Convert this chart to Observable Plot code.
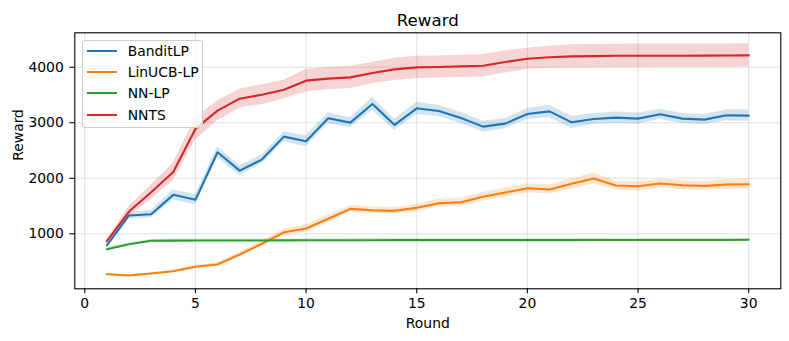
<!DOCTYPE html>
<html>
<head>
<meta charset="utf-8">
<script src="https://cdn.jsdelivr.net/npm/d3@7"></script>
<script src="https://cdn.jsdelivr.net/npm/@observablehq/plot@0.6"></script>
<style>
  body { margin: 0; background: white; }
  #wrap { position: relative; width: 789px; height: 341px; font-family: "DejaVu Sans", sans-serif; }
  #legend { position: absolute; left: 81.7px; top: 39.7px; width: 119px; height: 86px;
    border: 1px solid #cccccc; border-radius: 3px; background: rgba(255,255,255,0.8); box-sizing: content-box; }
  .entry { position: absolute; left: 0; height: 20px; font-size: 13.9px; color: #000; }
  .entry .sw { position: absolute; left: 4.3px; top: 9px; width: 30px; height: 2.1px; }
  .entry .lb { position: absolute; left: 45px; top: 1px; white-space: nowrap; line-height: 18px; }
</style>
</head>
<body>
<div id="wrap"><div id="legend"></div></div>
<script>
const rounds = [1,2,3,4,5,6,7,8,9,10,11,12,13,14,15,16,17,18,19,20,21,22,23,24,25,26,27,28,29,30];
const seriesNames = ["BanditLP", "LinUCB-LP", "NN-LP", "NNTS"];
const seriesColors = ["#1f77b4", "#ff7f0e", "#2ca02c", "#d62728"];

const banditLP    = [790,1330,1353,1702,1612,2468,2139,2337,2750,2666,3080,3002,3339,2961,3260,3213,3087,2930,2984,3159,3205,3008,3069,3093,3075,3152,3075,3057,3134,3128];
const banditLPStd = [40,60,70,90,90,100,90,80,90,100,100,90,120,100,110,100,100,100,90,100,110,110,100,100,100,90,90,90,100,100];

const linUCBLP    = [273,250,286,327,406,448,628,820,1029,1095,1270,1450,1425,1414,1468,1551,1569,1666,1743,1820,1797,1900,1995,1869,1857,1905,1875,1864,1887,1893];
const linUCBLPStd = [15,15,15,20,25,30,40,50,60,60,70,60,60,60,60,70,70,80,80,80,80,90,100,80,80,80,80,80,90,90];

const nnLP        = [723,813,874,878,880,880,881,881,882,883,884,884,885,886,886,886,887,887,886,887,887,887,889,888,888,889,889,889,890,892];
const nnLPStd     = [20,20,25,25,25,25,25,25,25,25,25,25,25,25,25,25,25,25,25,25,25,25,25,25,25,25,25,25,25,25];

const nnts        = [867,1401,1748,2115,2889,3218,3434,3506,3596,3758,3795,3817,3896,3961,3997,4004,4015,4028,4094,4154,4180,4195,4200,4206,4207,4208,4208,4209,4210,4213];
const nntsStd     = [30,90,130,160,200,180,170,180,170,200,200,200,190,200,200,200,200,200,200,190,200,210,210,210,210,210,210,210,210,210];

const xTicks = [0,5,10,15,20,25,30];
const yTicks = [1000,2000,3000,4000];

const means = [banditLP, linUCBLP, nnLP, nnts];
const stds = [banditLPStd, linUCBLPStd, nnLPStd, nntsStd];

const data = seriesNames.map((name, i) => rounds.map((r, j) => ({
  series: name, round: r, mean: means[i][j], lo: means[i][j] - stds[i][j], hi: means[i][j] + stds[i][j]
})));

const seriesMarks = data.flatMap((rows, i) => [
  Plot.lineY(rows, {x: "round", y: "mean", stroke: seriesColors[i], strokeWidth: 2.1}),
  Plot.areaY(rows, {x: "round", y1: "lo", y2: "hi", fill: seriesColors[i], fillOpacity: 0.2})
]);

const chart = Plot.plot({
  width: 789,
  height: 341,
  marginLeft: 74.3,
  marginRight: 8.7,
  marginTop: 32.3,
  marginBottom: 52.7,
  x: {domain: [-0.45, 31.45]},
  y: {domain: [10, 4620]},
  style: {fontFamily: "DejaVu Sans", fontSize: "13.9px", background: "white", color: "black"},
  marks: [
    Plot.gridX(xTicks, {stroke: "#b0b0b0", strokeOpacity: 0.35, strokeWidth: 1.1}),
    Plot.gridY(yTicks, {stroke: "#b0b0b0", strokeOpacity: 0.35, strokeWidth: 1.1}),
    ...seriesMarks,
    Plot.frame({stroke: "black", strokeWidth: 1.1}),
    Plot.axisX(xTicks, {tickSize: 5, tickPadding: 4.7, label: null, stroke: "black", strokeWidth: 1.1, fontSize: 13.9}),
    Plot.axisY(yTicks, {tickSize: 5, tickPadding: 6, label: null, stroke: "black", strokeWidth: 1.1, fontSize: 13.9, tickFormat: d => String(d)}),
    Plot.text(["Reward"], {frameAnchor: "top", dy: -12.6, fontSize: 16.7, lineAnchor: "middle"}),
    Plot.text(["Round"], {frameAnchor: "bottom", dy: 35.2, fontSize: 13.9, lineAnchor: "middle"}),
    Plot.text(["Reward"], {frameAnchor: "left", dx: -56.1, rotate: -90, fontSize: 13.9, lineAnchor: "middle"})
  ]
});

const wrap = document.getElementById("wrap");
wrap.insertBefore(chart, wrap.firstChild);

const legend = document.getElementById("legend");
const rowCenters = [10.5, 31.3, 52.6, 74.3];
seriesNames.forEach((name, i) => {
  const e = document.createElement("div");
  e.className = "entry";
  e.style.top = (rowCenters[i] - 10) + "px";
  const sw = document.createElement("div");
  sw.className = "sw";
  sw.style.background = seriesColors[i];
  const lb = document.createElement("div");
  lb.className = "lb";
  lb.textContent = name;
  e.appendChild(sw);
  e.appendChild(lb);
  legend.appendChild(e);
});
</script>
</body>
</html>
